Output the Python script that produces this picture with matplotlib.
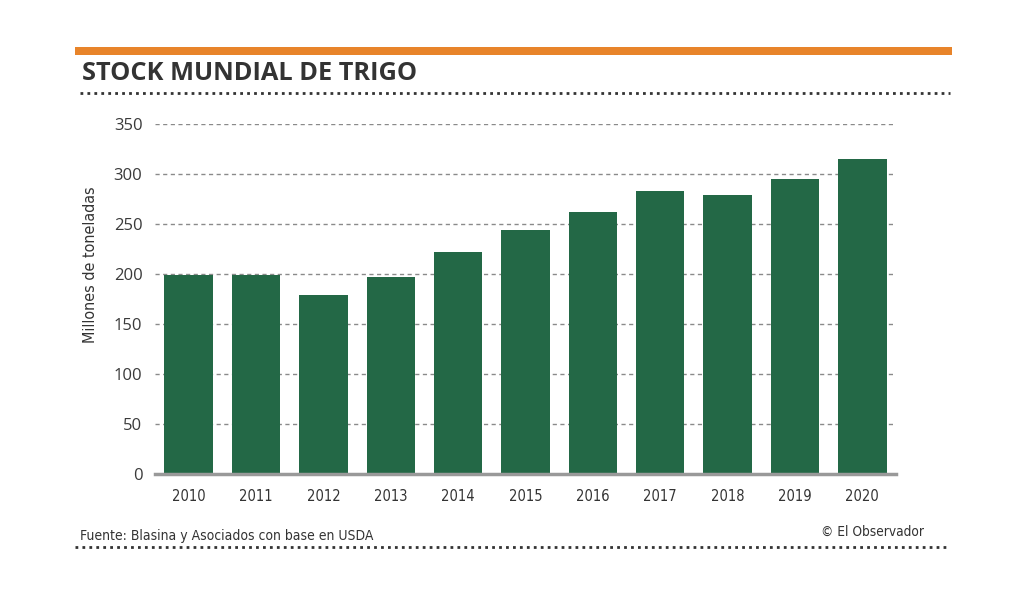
import matplotlib
matplotlib.use("Agg")
import matplotlib.pyplot as plt
from matplotlib.lines import Line2D
from matplotlib.patches import Rectangle
from matplotlib import font_manager as fm

years = ["2010", "2011", "2012", "2013", "2014", "2015", "2016", "2017", "2018", "2019", "2020"]
stock = [199, 199.5, 179.5, 197.5, 222, 244.5, 262.5, 283.5, 279.5, 295.5, 315.5]
yticks = [0, 50, 100, 150, 200, 250, 300, 350]

title = "STOCK MUNDIAL DE TRIGO"
ylabel = "Millones de toneladas"
source = "Fuente: Blasina y Asociados con base en USDA"
credit = "© El Observador"

GREEN = "#236846"
TXT = "#333333"

names = {f.name for f in fm.fontManager.ttflist}
cond_names = [f.name for f in fm.fontManager.ttflist if "Narrow" in f.name or "Condensed" in f.name]
if "Liberation Sans Narrow" in names:
    COND = dict(family=["Liberation Sans Narrow", "DejaVu Sans"])
elif any(f.name == "DejaVu Sans" and f.stretch == "condensed" for f in fm.fontManager.ttflist):
    COND = dict(family=["DejaVu Sans"], stretch="condensed")
elif cond_names:
    COND = dict(family=[cond_names[0], "DejaVu Sans"])
else:
    COND = dict(family=["DejaVu Sans"], stretch="condensed")

fig = plt.figure(figsize=(10.24, 5.97), dpi=100)
fig.patch.set_facecolor("white")

ax = fig.add_axes([155/1024, 1-474/597, (896-155)/1024, (474-124)/597])
x = list(range(len(years)))
ax.bar(x, stock, width=0.72, color=GREEN, zorder=3)
ax.set_xlim(-0.5, 10.5)
ax.set_ylim(0, 350)
ax.set_yticks(yticks)
ax.set_yticklabels([str(v) for v in yticks], fontsize=12, color="#3a3a3a", family=["Open Sans", "DejaVu Sans"])
ax.set_xticks(x)
ax.set_xticklabels(years, fontsize=10.5, color=TXT, **COND)
ax.tick_params(axis="both", length=0)
ax.tick_params(axis="y", pad=9)
ax.tick_params(axis="x", pad=11)
for v in yticks[1:]:
    ax.axhline(v, color="#8a8a8a", lw=1.0, ls=(0, (3, 2.5)), zorder=1)
for s in ["top", "right", "left"]:
    ax.spines[s].set_visible(False)
ax.spines["bottom"].set_color("#999999")
ax.spines["bottom"].set_linewidth(2.5)
ax.spines["bottom"].set_zorder(4)
ax.set_ylabel(ylabel, fontsize=11.5, color=TXT, **COND)
ax.yaxis.set_label_coords(-0.077, 0.597)

# decorations
fig.add_artist(Rectangle((75/1024, 1-55/597), (952-75)/1024, 8/597,
                         transform=fig.transFigure, color="#E8842A", lw=0))
fig.text(82/1024, 1-74/597, title, fontsize=18.3, fontweight="bold", fontstretch="normal",
         color=TXT, family=["Open Sans", "DejaVu Sans"], va="center", ha="left")
fig.add_artist(Line2D([80/1024, 950/1024], [1-93/597, 1-93/597], transform=fig.transFigure,
                      color="#333333", lw=2, ls=(0, (1, 1.5))))
fig.text(80/1024, 1-536/597, source, fontsize=10, color=TXT, **COND,
         va="center", ha="left")
fig.text(924/1024, 1-532/597, credit, fontsize=9.8, color=TXT, **COND,
         va="center", ha="right")
fig.add_artist(Line2D([75/1024, 948/1024], [1-547/597, 1-547/597], transform=fig.transFigure,
                      color="#333333", lw=2, ls=(0, (1, 1.5))))

fig.savefig("out.png", dpi=100, facecolor="white")
